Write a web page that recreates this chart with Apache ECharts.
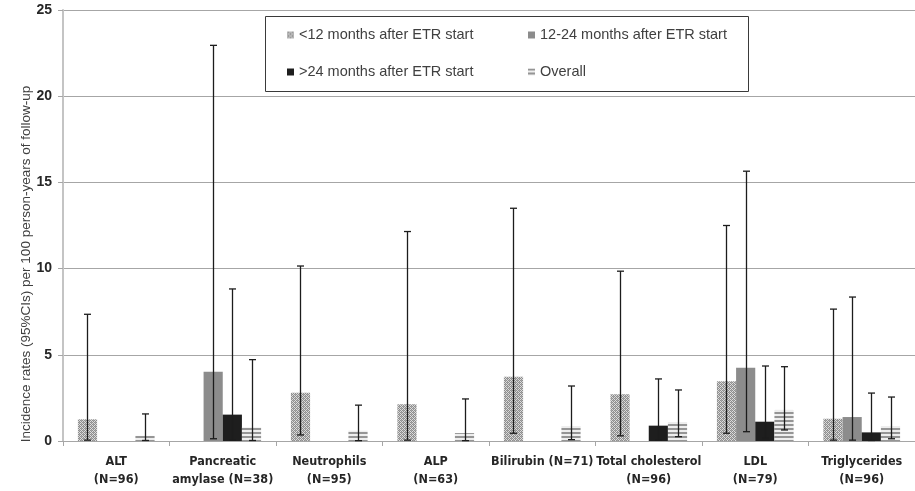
<!DOCTYPE html>
<html>
<head>
<meta charset="utf-8">
<script src="https://cdn.jsdelivr.net/npm/echarts@6/dist/echarts.min.js"></script>
<style>
html,body{margin:0;padding:0;background:#fff;}
#c{width:915px;height:491px;}
</style>
</head>
<body>
<div id="c"></div>
<script>
const categories = ['ALT\n(N=96)', 'Pancreatic\namylase (N=38)', 'Neutrophils\n(N=95)', 'ALP\n(N=63)', 'Bilirubin (N=71)', 'Total cholesterol\n(N=96)', 'LDL\n(N=79)', 'Triglycerides\n(N=96)'];
const seriesNames = ['<12 months after ETR start', '12-24 months after ETR start', '>24 months after ETR start', 'Overall'];
const yTicks = [0, 5, 10, 15, 20, 25];

const lt12 =      [1.26, null, 2.80, 2.13, 3.73, 2.71, 3.46, 1.29];
const lt12Lo =    [0.05, null, 0.35, 0.05, 0.45, 0.30, 0.45, 0.05];
const lt12Hi =    [7.35, null, 10.15, 12.15, 13.50, 9.85, 12.50, 7.65];

const m12to24 =   [null, 4.02, null, null, null, null, 4.25, 1.39];
const m12to24Lo = [null, 0.13, null, null, null, null, 0.54, 0.05];
const m12to24Hi = [null, 22.95, null, null, null, null, 15.65, 8.35];

const gt24 =      [null, 1.53, null, null, null, 0.89, 1.12, 0.50];
const gt24Lo =    [null, 0.05, null, null, null, 0.04, 0.15, 0.03];
const gt24Hi =    [null, 8.82, null, null, null, 3.60, 4.35, 2.78];

const overall =   [0.30, 0.79, 0.60, 0.46, 0.87, 1.10, 1.80, 0.87];
const overallLo = [0.03, 0.03, 0.02, 0.02, 0.08, 0.25, 0.64, 0.13];
const overallHi = [1.57, 4.72, 2.08, 2.44, 3.19, 2.96, 4.31, 2.55];

function makeDots() {
  const c = document.createElement('canvas'); c.width = 4; c.height = 4;
  const g = c.getContext('2d');
  g.fillStyle = '#dcdcdc'; g.fillRect(0, 0, 4, 4);
  g.fillStyle = '#8e8e8e';
  [[0,0],[2,0],[1,1],[3,1],[0,2],[2,2],[1,3],[3,3]].forEach(p => { if ((p[0] + p[1]) % 2 === 0) g.fillRect(p[0], p[1], 1, 1); });
  g.fillStyle = '#a8a8a8';
  g.fillRect(1, 0, 1, 1); g.fillRect(3, 2, 1, 1);
  return c;
}
function makeStripes() {
  const c = document.createElement('canvas'); c.width = 4; c.height = 4;
  const g = c.getContext('2d');
  g.fillStyle = '#eeeeee'; g.fillRect(0, 0, 4, 4);
  g.fillStyle = '#959595'; g.fillRect(0, 0, 4, 2);
  return c;
}
const colors = [
  { image: makeDots(), repeat: 'repeat' },
  '#8c8c8c',
  '#1e1e1e',
  { image: makeStripes(), repeat: 'repeat' }
];
const values = [lt12, m12to24, gt24, overall];
const lows = [lt12Lo, m12to24Lo, gt24Lo, overallLo];
const highs = [lt12Hi, m12to24Hi, gt24Hi, overallHi];
const GAP = 0.28;

const errData = [];
for (let k = 0; k < 4; k++) {
  for (let i = 0; i < categories.length; i++) {
    if (values[k][i] != null) errData.push([i, k, lows[k][i], highs[k][i]]);
  }
}

const series = values.map((v, k) => ({
  name: seriesNames[k],
  type: 'bar',
  data: v,
  barGap: '0%',
  barCategoryGap: (GAP * 100) + '%',
  itemStyle: { color: colors[k] },
  emphasis: { disabled: true },
  silent: true
}));
series.push({
  type: 'custom',
  silent: true,
  z: 5,
  data: errData,
  encode: { x: 0, y: 3 },
  renderItem: function (params, api) {
    const cat = api.value(0), k = api.value(1), lo = api.value(2), hi = api.value(3);
    const band = api.size([1, 0])[0];
    const bw = band * (1 - GAP) / 4;
    const top = api.coord([cat, hi]);
    const bot = api.coord([cat, lo]);
    const x = Math.round(top[0] + (k - 1.5) * bw) + 0.5;
    const cap = 3.5;
    const st = { stroke: '#1c1c1c', lineWidth: 1.3 };
    return {
      type: 'group',
      children: [
        { type: 'line', shape: { x1: x, y1: top[1], x2: x, y2: bot[1] }, style: st },
        { type: 'line', shape: { x1: x - cap, y1: top[1], x2: x + cap, y2: top[1] }, style: st },
        { type: 'line', shape: { x1: x - cap, y1: bot[1], x2: x + cap, y2: bot[1] }, style: st }
      ]
    };
  }
});

const legendText = { fontFamily: 'Liberation Sans, Arial, sans-serif', fontSize: 14.5, color: '#404040', lineHeight: 16 };
const chart = echarts.init(document.getElementById('c'), null, { renderer: 'canvas' });
chart.setOption({
  animation: false,
  backgroundColor: '#ffffff',
  grid: { left: 63, right: -9, top: 10, bottom: 50, containLabel: false },
  legend: [
    { data: [seriesNames[0], seriesNames[2]], orient: 'vertical', left: 282, top: 22, itemWidth: 7, itemHeight: 7, itemGap: 21, textStyle: legendText, selectedMode: false, z: 10, icon: 'rect' },
    { data: [seriesNames[1], seriesNames[3]], orient: 'vertical', left: 523, top: 22, itemWidth: 7, itemHeight: 7, itemGap: 21, textStyle: legendText, selectedMode: false, z: 10, icon: 'rect' }
  ],
  graphic: [
    { type: 'rect', shape: { x: 265.5, y: 16.5, width: 483, height: 75 }, style: { fill: '#ffffff', stroke: '#3a3a3a', lineWidth: 1 }, z: 5 },
    { type: 'text', x: 26, y: 264, rotation: Math.PI / 2, style: { text: 'Incidence rates (95%CIs) per 100 person-years of follow-up', fontFamily: 'Liberation Sans, Arial, sans-serif', fontSize: 13.5, fill: '#404040', align: 'center', verticalAlign: 'middle' } }
  ],
  xAxis: {
    type: 'category',
    data: categories,
    axisLine: { show: true, lineStyle: { color: '#a6a6a6', width: 1 } },
    axisTick: { show: true, alignWithLabel: false, length: 5, lineStyle: { color: '#a6a6a6' } },
    axisLabel: { interval: 0, margin: 12, fontFamily: 'DejaVu Sans, sans-serif', fontWeight: 'bold condensed', fontSize: 12.5, lineHeight: 18, color: '#262626' },
    splitLine: { show: false }
  },
  yAxis: {
    type: 'value',
    min: 0, max: 25, interval: 5,
    axisLine: { show: true, lineStyle: { color: '#c4c4c4', width: 2 } },
    axisTick: { show: true, length: 5, inside: false, lineStyle: { color: '#a6a6a6' } },
    axisLabel: { margin: 11, fontFamily: 'Liberation Sans, Arial, sans-serif', fontWeight: 'bold', fontSize: 14, color: '#262626',
      formatter: function (v) { return yTicks.indexOf(v) >= 0 ? String(v) : ''; } },
    splitLine: { show: true, lineStyle: { color: '#a6a6a6', width: 1 } }
  },
  series: series
});
</script>
</body>
</html>
